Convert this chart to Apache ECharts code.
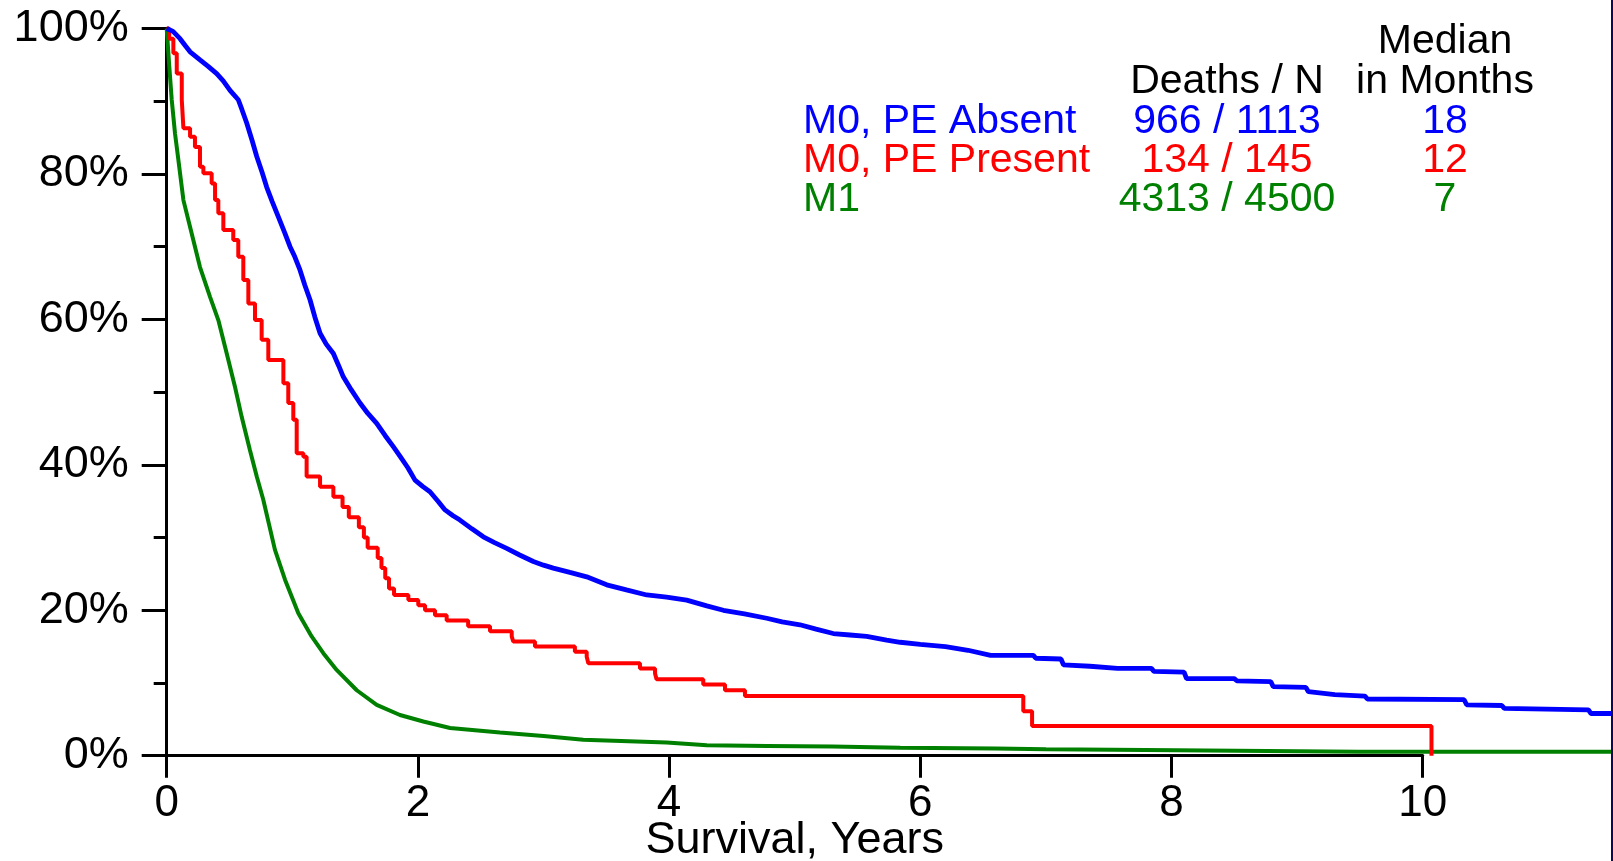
<!DOCTYPE html>
<html>
<head>
<meta charset="utf-8">
<script src="https://cdn.jsdelivr.net/npm/echarts@6/dist/echarts.min.js"></script>
<style>
  html, body { margin: 0; padding: 0; background: #ffffff; }
  #chart { width: 1613px; height: 861px; }
</style>
</head>
<body>
<div id="chart"></div>
<script>
// Kaplan-Meier survival, percent surviving vs. years since diagnosis
const xTicks = [0, 2, 4, 6, 8, 10];
const yTicks = [0, 20, 40, 60, 80, 100];

// M0, PE Absent
const blueCurve = [
  [0, 100], [0.05, 99.6], [0.106, 98.6], [0.15, 97.6], [0.186, 96.8], [0.265, 95.7],
  [0.33, 94.8], [0.398, 93.8], [0.45, 92.8], [0.504, 91.5], [0.57, 90.2], [0.6, 88.8],
  [0.637, 87.0], [0.68, 84.6], [0.717, 82.4], [0.76, 80.2], [0.796, 78.2], [0.84, 76.2],
  [0.889, 74.1], [0.94, 71.9], [0.982, 70.0], [1.02, 68.6], [1.061, 66.8], [1.1, 64.7],
  [1.141, 62.7], [1.18, 60.3], [1.221, 58.1], [1.27, 56.6], [1.327, 55.3], [1.37, 53.6],
  [1.406, 52.1], [1.47, 50.3], [1.539, 48.5], [1.6, 47.1], [1.672, 45.7], [1.74, 44.0],
  [1.804, 42.5], [1.857, 41.2], [1.92, 39.6], [1.977, 37.9], [2.04, 37.0], [2.096, 36.3],
  [2.16, 35.0], [2.216, 33.8], [2.28, 33.0], [2.335, 32.4], [2.43, 31.2], [2.521, 30.1],
  [2.61, 29.3], [2.707, 28.5], [2.81, 27.6], [2.919, 26.7], [3.0, 26.2], [3.078, 25.8],
  [3.21, 25.2], [3.344, 24.6], [3.503, 23.5], [3.66, 22.8], [3.822, 22.1], [3.98, 21.8],
  [4.14, 21.4], [4.3, 20.6], [4.432, 20.0], [4.6, 19.5], [4.777, 18.9], [4.9, 18.4],
  [5.042, 18.0], [5.17, 17.4], [5.307, 16.8], [5.44, 16.6], [5.573, 16.4], [5.732, 15.9],
  [5.84, 15.6], [6.0, 15.3], [6.2, 15.0], [6.38, 14.5], [6.56, 13.8], [6.9, 13.8],
  [6.92, 13.4], [7.12, 13.3], [7.14, 12.5], [7.35, 12.3], [7.57, 12.0], [7.84, 12.0],
  [7.86, 11.6], [8.1, 11.5], [8.12, 10.6], [8.5, 10.6], [8.52, 10.3], [8.79, 10.2],
  [8.81, 9.5], [9.07, 9.4], [9.09, 8.8], [9.3, 8.4], [9.54, 8.2], [9.56, 7.8],
  [10.33, 7.7], [10.35, 7.0], [10.63, 6.9], [10.65, 6.5], [11.32, 6.3], [11.34, 5.8],
  [11.5, 5.8]
];

// M0, PE Present (step curve: time of event, survival after it)
const redCurve = [
  [0, 100], [0.02, 98.6], [0.053, 96.6], [0.08, 93.8], [0.12, 90.2], [0.133, 86.3],
  [0.186, 85.1], [0.225, 83.7], [0.265, 81.0], [0.292, 80.1], [0.358, 78.7], [0.385, 76.4],
  [0.411, 74.6], [0.451, 72.3], [0.53, 70.9], [0.57, 68.6], [0.61, 65.4], [0.65, 62.2],
  [0.703, 59.9], [0.756, 57.2], [0.809, 54.4], [0.929, 51.2], [0.968, 48.5], [1.008, 46.2],
  [1.035, 41.6], [1.088, 41.1], [1.114, 38.4], [1.221, 37.0], [1.327, 35.6], [1.4, 34.2],
  [1.45, 32.8], [1.53, 31.4], [1.57, 30.0], [1.6, 28.6], [1.68, 27.2], [1.71, 25.8],
  [1.74, 24.4], [1.77, 23.0], [1.81, 22.1], [1.924, 21.4], [2.003, 20.7], [2.057, 20.0],
  [2.136, 19.3], [2.229, 18.6], [2.4, 17.8], [2.574, 17.1], [2.747, 16.4], [2.759, 15.7],
  [2.932, 15.0], [3.25, 14.3], [3.344, 13.6], [3.357, 12.7], [3.768, 12.0], [3.888, 11.3],
  [3.9, 10.5], [4.272, 9.8], [4.445, 9.0], [4.604, 8.2], [6.82, 6.1], [6.89, 4.1],
  [10.07, 0]
];

// M1
const greenCurve = [
  [0, 100], [0.021, 94.7], [0.04, 90.2], [0.066, 85.6], [0.093, 81.9], [0.133, 76.4],
  [0.199, 71.8], [0.265, 67.2], [0.345, 63.1], [0.411, 59.9], [0.478, 55.3], [0.544, 50.7],
  [0.597, 46.6], [0.663, 42.0], [0.717, 38.4], [0.769, 35.2], [0.862, 28.3], [0.942, 24.2],
  [1.048, 19.6], [1.154, 16.4], [1.247, 14.1], [1.353, 11.8], [1.513, 9.0], [1.672, 7.0],
  [1.857, 5.6], [2.043, 4.7], [2.256, 3.8], [2.654, 3.2], [3.0, 2.7], [3.317, 2.2],
  [3.98, 1.8], [4.3, 1.45], [4.78, 1.35], [5.3, 1.25], [5.84, 1.1], [6.6, 1.0],
  [7.0, 0.9], [7.79, 0.8], [9.49, 0.55], [11.5, 0.55]
];

const groupNames = ['M0, PE Absent', 'M0, PE Present', 'M1'];
const deaths = [966, 134, 4313];
const totals = [1113, 145, 4500];
const medianMonths = [18, 12, 7];
const groupColors = ['#0000ff', '#ff0000', '#008000'];

const FONT = '"Liberation Sans", Arial, Helvetica, sans-serif';

// plot geometry: the labelled axis spans 0-10 years, curves run on to the right edge
const W = 1613, H = 861;
const plotLeft = 166.7, plotTop = 28.5, plotBottom = 105.3, axisRight = 190.3;
const yearsToEdge = xTicks[xTicks.length - 1] * (W - plotLeft) / (W - plotLeft - axisRight);

const chart = echarts.init(document.getElementById('chart'), null, { renderer: 'canvas' });

// summary table in the upper right
const tableText = [];
function addText(str, x, y, color, align) {
  tableText.push({
    type: 'text',
    x: x, y: y,
    style: {
      text: str, fill: color, font: '41px ' + FONT,
      align: align, verticalAlign: 'middle'
    },
    z: 10
  });
}
addText('Median', 1445, 42, '#000', 'center');
addText('Deaths / N', 1227, 82, '#000', 'center');
addText('in Months', 1445, 82, '#000', 'center');
const rowY = [122, 161, 200];
groupNames.forEach((name, i) => {
  addText(name, 803, rowY[i], groupColors[i], 'left');
  addText(deaths[i] + ' / ' + totals[i], 1227, rowY[i], groupColors[i], 'center');
  addText(String(medianMonths[i]), 1445, rowY[i], groupColors[i], 'center');
});
// frame edge at the far right
tableText.push({
  type: 'rect',
  shape: { x: 1611, y: 0, width: 2, height: H },
  style: { fill: '#0b0b55' },
  z: 20
});

function curveSeries(name, data, color, width, step) {
  return {
    name: name,
    type: 'line',
    xAxisIndex: 1,
    yAxisIndex: 1,
    data: data,
    step: step,
    showSymbol: false,
    symbol: 'none',
    clip: false,
    lineStyle: { color: color, width: width },
    z: 3
  };
}

chart.setOption({
  animation: false,
  backgroundColor: '#ffffff',
  grid: [
    { left: plotLeft, top: plotTop, right: axisRight, bottom: plotBottom, containLabel: false, outerBoundsMode: 'none' },
    { left: plotLeft, top: plotTop, right: 0, bottom: plotBottom, containLabel: false, outerBoundsMode: 'none' }
  ],
  xAxis: [
    {
      type: 'value', gridIndex: 0,
      min: xTicks[0], max: xTicks[xTicks.length - 1], interval: 2,
      name: 'Survival, Years',
      nameLocation: 'middle',
      nameGap: 62,
      nameMoveOverlap: false,
      nameTextStyle: { color: '#000', fontSize: 45, fontFamily: FONT },
      axisLine: { show: true, onZero: false, lineStyle: { color: '#000', width: 3 } },
      axisTick: { show: true, length: 22, lineStyle: { color: '#000', width: 3 } },
      axisLabel: { color: '#000', fontSize: 44, fontFamily: FONT, margin: 26 },
      splitLine: { show: false }
    },
    {
      type: 'value', gridIndex: 1, show: false,
      min: 0, max: yearsToEdge,
      splitLine: { show: false }
    }
  ],
  yAxis: [
    {
      type: 'value', gridIndex: 0,
      min: yTicks[0], max: yTicks[yTicks.length - 1], interval: 20,
      axisLine: { show: true, onZero: false, lineStyle: { color: '#000', width: 3 } },
      axisTick: { show: true, length: 25, lineStyle: { color: '#000', width: 3 } },
      minorTick: { show: true, splitNumber: 2, length: 13, lineStyle: { color: '#000', width: 3 } },
      axisLabel: { color: '#000', fontSize: 45, fontFamily: FONT, margin: 38, formatter: '{value}%' },
      splitLine: { show: false },
      minorSplitLine: { show: false }
    },
    {
      type: 'value', gridIndex: 1, show: false,
      min: yTicks[0], max: yTicks[yTicks.length - 1],
      splitLine: { show: false }
    }
  ],
  series: [
    curveSeries(groupNames[2], greenCurve, groupColors[2], 4, false),
    curveSeries(groupNames[1], redCurve, groupColors[1], 4, 'end'),
    curveSeries(groupNames[0], blueCurve, groupColors[0], 4.8, false)
  ],
  graphic: tableText
});
</script>
</body>
</html>
